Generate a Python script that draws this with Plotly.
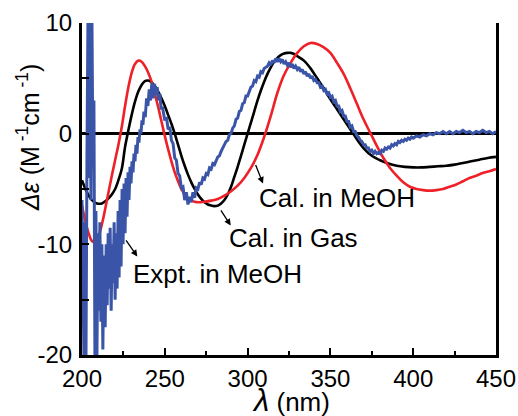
import plotly.graph_objects as go

# ---------------- data ----------------
gas_x = [200, 203, 206, 209, 212, 215, 218, 220, 222, 224, 226, 228, 230, 232, 234, 236, 238, 240,
         242, 244, 246, 248, 250, 252, 254, 256, 258, 260, 262, 264, 266, 268, 270, 272, 274, 276,
         278, 280, 282, 284, 286, 288, 290, 292, 294, 296, 298, 300, 302, 304, 306, 308, 310, 312,
         314, 316, 318, 320, 322, 324, 326, 328, 330, 334, 338, 342, 346, 350, 354, 358, 362, 366,
         370, 375, 380, 385, 390, 395, 400, 405, 410, 415, 420, 425, 430, 435, 440, 445, 450]
gas_y = [-4.2, -5.3, -6.0, -6.3, -6.3, -6.0, -5.5, -5.0, -4.2, -3.2, -1.2, 0.3, 1.7, 2.9, 3.8, 4.4, 4.75, 4.8,
         4.65, 4.3, 3.8, 3.2, 2.5, 1.7, 0.9, 0.0, -1.0, -2.0, -2.9, -3.7, -4.4, -5.0, -5.5, -5.9, -6.2, -6.4,
         -6.5, -6.55, -6.5, -6.3, -6.0, -5.5, -4.8, -3.9, -3.0, -2.0, -1.0, 0.0, 1.0, 2.0, 3.0, 3.9, 4.7, 5.4,
         6.0, 6.5, 6.85, 7.1, 7.25, 7.3, 7.3, 7.2, 7.0, 6.6, 5.9, 5.0, 4.1, 3.1, 2.2, 1.3, 0.4, -0.5,
         -1.3, -2.0, -2.4, -2.7, -2.9, -3.0, -3.05, -3.05, -3.0, -2.95, -2.9, -2.8, -2.65, -2.5, -2.35, -2.2, -2.1]

meoh_x = [200, 202, 204, 206, 208, 210, 212, 214, 216, 218, 220, 222, 224, 226, 228, 230, 232, 234, 236,
          238, 240, 242, 244, 246, 248, 250, 252, 254, 256, 258, 260, 262, 264, 266, 268, 270, 274, 278,
          282, 286, 290, 294, 298, 302, 306, 310, 314, 318, 322, 326, 330, 334, 338, 342, 346, 350, 354,
          358, 362, 366, 370, 374, 378, 382, 386, 390, 394, 398, 402, 406, 410, 414, 418, 422, 426, 430,
          434, 438, 442, 446, 450]
meoh_y = [-6.5, -7.9, -9.0, -9.7, -9.8, -9.3, -8.2, -6.8, -5.3, -3.8, -2.4, -1.0, 0.6, 2.5, 4.2, 5.5, 6.3, 6.6, 6.5,
          6.1, 5.5, 4.7, 3.6, 2.4, 1.1, -0.2, -1.4, -2.5, -3.5, -4.3, -5.0, -5.5, -5.85, -6.05, -6.15, -6.2, -6.15, -6.05,
          -5.9, -5.6, -5.2, -4.7, -4.0, -3.1, -1.9, -0.3, 1.6, 3.7, 5.3, 6.4, 7.3, 7.9, 8.2, 8.1, 7.8, 7.3, 6.4,
          5.4, 4.1, 2.7, 1.3, 0.1, -1.1, -2.2, -3.1, -3.8, -4.4, -4.8, -5.0, -5.1, -5.15, -5.1, -5.0, -4.8, -4.6, -4.3,
          -4.0, -3.8, -3.55, -3.4, -3.2]

expt_x = [200.0, 200.6, 201.2, 201.8, 202.4, 203.0, 203.6, 204.2, 204.8, 205.4, 206.0, 206.6, 207.2, 207.8,
          208.4, 209.0, 209.6, 210.2, 210.8, 211.4, 212.0, 212.6, 213.2, 213.6, 214.0, 214.6, 215.2, 215.8,
          216.4, 217.0, 217.6, 218.2, 218.8, 219.4, 220.0, 220.6, 221.2, 221.8, 222.4, 223.0, 223.6, 224.2,
          224.8, 225.4, 226.0, 226.6, 227.2, 227.8, 228.4, 229.0, 229.6, 230.2, 230.8, 231.4, 232.0, 232.6,
          233.2, 233.8, 234.4, 235.0, 235.6, 236.2, 236.8, 237.4, 238.2, 239.0, 239.8, 240.6, 241.4, 242.2,
          243.0, 243.8, 244.6, 245.4, 246.2, 247.0, 247.8, 248.6, 249.4,
          250, 251, 252, 253, 254, 255, 256, 257, 258, 259, 260, 261, 262, 263, 264, 265, 266, 267, 268, 269,
          270, 271, 272, 273, 274, 275, 276, 277, 278, 279, 280, 282, 283, 284, 285, 286, 287, 288, 289, 290,
          291, 292, 293, 294, 295, 296, 297, 298, 299, 300, 302, 303, 304, 305, 306, 307, 308, 309, 310, 312,
          313, 314, 315, 316, 317, 318, 319, 320, 321, 322, 323, 324, 325, 326, 327, 328, 329, 330, 331, 332,
          333, 334, 335, 336, 337, 338, 339, 340, 341, 342, 343, 344, 345, 346, 347, 348, 349, 350, 351, 352,
          353, 354, 355, 356, 357, 358, 359, 360, 361, 362, 363, 364, 365, 366, 367, 368, 369, 370, 371, 372,
          373, 374, 375, 376, 377, 378, 379, 380, 381, 382, 383, 384, 385, 386, 387, 388, 389, 390, 391, 392,
          393, 394, 395, 396, 397, 398, 399, 400, 402, 404, 406, 408, 410, 412, 414, 416, 418, 420, 422, 424,
          426, 428, 430, 432, 434, 436, 438, 440, 442, 444, 446, 448, 450]
expt_y = [-6, -14, -20.5, -8, -20.5, -2, 10.5, -4, 10.5, -6, 10.5, -3, 3, -20.5,
          -7, -20.5, -9, -16, -8, -17, -10, -19.5, -11, -14, -17.5, -10, -15.5, -9,
          -14, -8.5, -16, -10, -13.5, -8, -15, -9, -14, -7, -13, -6, -12, -5,
          -10, -4.5, -9, -4, -7.5, -3.5, -6, -3, -4.5, -2.5, -3.5, -1.8, -2.5, -1.0,
          -1.8, -0.3, -0.8, 0.4, 0.0, 1.2, 0.8, 2.0, 1.5, 3.2, 2.5, 4.0, 3.0, 4.6,
          3.2, 4.5, 3.5, 4.2, 3.0, 3.6, 2.2, 2.4, 1.6,
          1.2, 1.5, 0.4, 0.6, -0.6, -0.9, -2.2, -2.4, -3.6, -3.8, -4.9, -4.8, -6.0, -5.3, -6.4, -5.7, -6.2, -5.3, -5.8, -4.9,
          -5.0, -4.4, -4.6, -4.0, -4.1, -3.6, -3.7, -3.1, -3.2, -2.7, -2.8, -2.1, -2.0, -1.6, -1.3, -1.1, -0.7, -0.6, -0.1, 0.0,
          0.5, 0.7, 1.3, 1.4, 2.0, 2.1, 2.7, 2.8, 3.4, 3.4, 4.2, 4.3, 4.8, 4.7, 5.2, 5.1, 5.6, 5.5, 5.9, 6.1,
          6.4, 6.2, 6.6, 6.4, 6.8, 6.5, 6.8, 6.5, 6.7, 6.3, 6.5, 6.2, 6.4, 6.0, 6.3, 5.9, 6.1, 5.8, 6.0, 5.6,
          5.8, 5.4, 5.6, 5.2, 5.4, 5.0, 5.2, 4.8, 4.9, 4.6, 4.6, 4.2, 4.3, 3.9, 4.0, 3.6, 3.7, 3.3, 3.4, 2.9,
          3.0, 2.5, 2.5, 2.0, 2.1, 1.6, 1.6, 1.1, 1.1, 0.6, 0.7, 0.2, 0.2, -0.2, -0.3, -0.6, -0.7, -1.0, -1.0, -1.3,
          -1.3, -1.6, -1.5, -1.8, -1.6, -1.8, -1.7, -1.8, -1.5, -1.6, -1.3, -1.4, -1.2, -1.3, -1.0, -1.1, -0.9, -1.0, -0.7, -0.8,
          -0.6, -0.7, -0.5, -0.6, -0.4, -0.5, -0.3, -0.4, -0.2, -0.3, -0.1, -0.2, 0.0, -0.1, 0.1, 0.0, 0.2, 0.0, 0.2, 0.0,
          0.2, 0.1, 0.3, 0.1, 0.2, 0.0, 0.2, 0.1, 0.3, 0.1, 0.2, 0.0, 0.2]

x_ticks = [200, 250, 300, 350, 400, 450]
x_labels = ["200", "250", "300", "350", "400", "450"]
y_ticks = [-20, -10, 0, 10]
y_labels = ["-20", "-10", "0", "10"]

labels = ["Cal. in MeOH", "Cal. in Gas", "Expt. in MeOH"]
label_x = [305.8, 287.7, 229.7]
label_y = [-5.8, -9.4, -12.65]
arrow_tail_x = [304.5, 283.3, 226.0]
arrow_tail_y = [-2.7, -6.8, -9.5]
arrow_head_x = [309.3, 289.8, 233.4]
arrow_head_y = [-4.5, -8.3, -11.1]

# ---------------- figure ----------------
FONT = "Liberation Sans, Arial, sans-serif"
fig = go.Figure()
fig.add_trace(go.Scatter(x=gas_x, y=gas_y, mode="lines", line=dict(color="black", width=2.6, shape="spline"),
                         showlegend=False))
fig.add_trace(go.Scatter(x=meoh_x, y=meoh_y, mode="lines", line=dict(color="#ee2028", width=2.6, shape="spline"),
                         showlegend=False))
fig.add_trace(go.Scatter(x=expt_x, y=expt_y, mode="lines", line=dict(color="#3a55a8", width=3),
                         showlegend=False))
fig.add_trace(go.Scatter(x=[200], y=[0], yaxis="y2", mode="lines", showlegend=False, hoverinfo="skip",
                         line=dict(width=0)))

ann = []
for t, lx, ly in zip(labels, label_x, label_y):
    ann.append(dict(x=lx, y=ly, xref="x", yref="y", text=t, showarrow=False, xanchor="left", yanchor="middle",
                    font=dict(family=FONT, size=26, color="black")))
for tx, ty, hx, hy in zip(arrow_tail_x, arrow_tail_y, arrow_head_x, arrow_head_y):
    ann.append(dict(x=hx, y=hy, ax=tx, ay=ty, xref="x", yref="y", axref="x", ayref="y", text="",
                    showarrow=True, arrowhead=2, arrowsize=1, arrowwidth=1.3, arrowcolor="black"))
ann.append(dict(x=-0.13, y=0.654, xref="paper", yref="paper", textangle=-90, showarrow=False,
                text="<i>Δε</i> (M<sup> -1</sup>cm<sup> -1</sup>)", xanchor="center", yanchor="middle",
                font=dict(family=FONT, size=25, color="black")))
ann.append(dict(x=0.505, y=-0.137, xref="paper", yref="paper", showarrow=False,
                text="<i><span style='font-size:31px'>λ</span></i> (nm)", xanchor="center", yanchor="middle",
                font=dict(family=FONT, size=26, color="black")))

fig.update_layout(
    width=518, height=416,
    margin=dict(l=82, r=22, t=23, b=61),
    paper_bgcolor="white", plot_bgcolor="white",
    font=dict(family=FONT, size=24, color="black"),
    annotations=ann,
    xaxis=dict(range=[200, 450], showgrid=False, zeroline=False, showline=True, linecolor="black", linewidth=3,
               automargin=False,
               ticks="inside", ticklen=7, tickwidth=2, tickcolor="black",
               tickvals=x_ticks, ticktext=x_labels, tickfont=dict(size=24),
               minor=dict(dtick=25, tick0=200, ticks="inside", ticklen=4, tickwidth=2, tickcolor="black")),
    yaxis=dict(range=[-20, 10], showgrid=False, zeroline=True, zerolinecolor="black", zerolinewidth=3,
               showline=True, linecolor="black", linewidth=3, automargin=False,
               ticks="inside", ticklen=7, tickwidth=2, tickcolor="black",
               tickvals=y_ticks, ticktext=y_labels, tickfont=dict(size=24), ticklabelstandoff=2,
               minor=dict(dtick=5, tick0=0, ticks="inside", ticklen=7, tickwidth=2, tickcolor="black")),
    yaxis2=dict(range=[-20, 10], overlaying="y", side="right", showline=True, linecolor="black", linewidth=3,
                automargin=False,
                showticklabels=False, ticks="", showgrid=False, zeroline=False),
)

fig.write_html("out.html", config={"displayModeBar": False},
               post_script="document.body.style.margin='0';document.body.style.overflow='hidden';")
